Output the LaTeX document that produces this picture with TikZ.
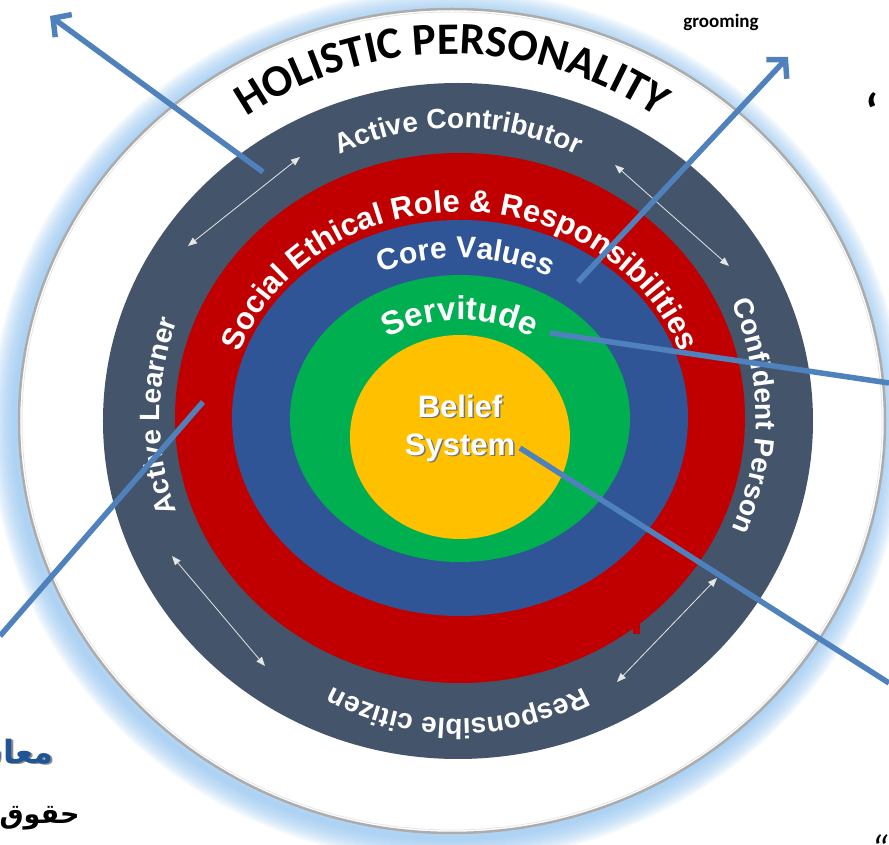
\documentclass[tikz,border=0pt]{standalone}
\usepackage{fontspec}
\setmainfont{Liberation Sans}
\newfontfamily\calibri{Carlito}
\newfontfamily\arabicfont[Script=Arabic]{DejaVu Sans}
\TeXXeTstate=1
\usetikzlibrary{decorations.text,arrows.meta}

\definecolor{slate}{HTML}{44546A}
\definecolor{ringred}{HTML}{C00000}
\definecolor{ringblue}{HTML}{2F5597}
\definecolor{ringgreen}{HTML}{00B050}
\definecolor{ringyellow}{HTML}{FFC000}
\definecolor{linkblue}{HTML}{4F81BD}
\definecolor{glowblue}{HTML}{8FC1EE}
\definecolor{arabicblue}{HTML}{1F5597}

\newcommand{\ringfont}[1]{\fontsize{#1}{#1}\selectfont\bfseries}

\begin{document}
\begin{tikzpicture}[x=1pt, y=1pt,
    ringlabel/.style={decorate, decoration={text along path, text color=white, text align=center}},
    link/.style={draw=linkblue, line width=5.5pt},
    linkarrow/.style={link, -{Straight Barb[length=13pt, width=28pt]}},
    swap/.style={draw=white!80!gray, line width=0.8pt, {Triangle[length=9pt, width=7pt]}-{Triangle[length=9pt, width=7pt]}},
    core/.style={font={\fontsize{31}{38}\selectfont\bfseries}, align=center}
  ]
    \useasboundingbox (-460,-425) rectangle (429,420);

    % Glow + outer disc
    \foreach \k in {1,...,12}
        \draw[glowblue, opacity=0.1, line width=4*\k] (-12,-6) ellipse (433 and 412);
    \draw[gray!65, line width=2.5pt, fill=white] (-8,-1) ellipse (433 and 412);
    \draw[gray!20, line width=0.8pt] (-8,-1) ellipse (430 and 409);

    % Rings
    \fill[slate] (-2,-1) ellipse (355 and 338);
    \fill[ringred] (0,2) ellipse (285 and 265);
    \fill[ringred] (173,-203) rectangle (180,-214);
    \fill[ringblue] (0,2) ellipse (228 and 198);
    \fill[ringgreen] (0,1.5) ellipse (170 and 143.5);
    \fill[ringyellow] (0,-17) ellipse (110 and 102);

    % Title
    \path[decorate, shift={(-8,-1)}, decoration={text along path, text align=center,
        text={|\calibri\fontsize{45}{45}\selectfont\bfseries|HOLISTIC PERSONALITY}}]
        (150:367) arc[start angle=150, end angle=30, radius=367];

    % Outer ring labels
    \path[ringlabel, shift={(-2,4)}, decoration={text={|\ringfont{28}|Active Contributor}}]
        (135:280 and 288) arc[start angle=135, end angle=45, x radius=280, y radius=288];
    \path[ringlabel, shift={(-2,4)}, decoration={text={|\ringfont{28}|Confident Person}}]
        (50:298 and 285) arc[start angle=50, end angle=-50, x radius=298, y radius=285];
    \path[ringlabel, shift={(-2,4)}, decoration={text={|\ringfont{28}|Responsible citizen}}]
        (-40:280 and 303) arc[start angle=-40, end angle=-140, x radius=280, y radius=303];
    \path[ringlabel, shift={(-2,4)}, decoration={text={|\ringfont{28}|Active Learner}}]
        (230:298 and 285) arc[start angle=230, end angle=130, x radius=298, y radius=285];

    % Inner ring labels
    \path[ringlabel, shift={(0,2)}, decoration={text={|\ringfont{31}|Social Ethical Role {\&} Responsibilities}}]
        (175:232 and 206) arc[start angle=175, end angle=5, x radius=232, y radius=206];
    \path[ringlabel, shift={(0,2)}, decoration={text={|\ringfont{30}|Core Values}}]
        (148:190 and 160) arc[start angle=148, end angle=28, x radius=190, y radius=160];
    \path[ringlabel, shift={(0,2)}, decoration={text={|\ringfont{33}|Servitude}}]
        (150:125 and 98) arc[start angle=150, end angle=30, x radius=125, y radius=98];

    % Core
    \node[core, text=black!55] (beliefShadow) at (1.5,-9.5) {Belief\\System};
    \node[core, text=white] (belief) at (0,-8) {Belief\\System};

    % Double arrows on the outer ring
    \coordinate (swapA1) at (-272,174);  \coordinate (swapA2) at (-160,263);
    \coordinate (swapB1) at (155,255);   \coordinate (swapB2) at (269,154);
    \coordinate (swapC1) at (-288,-136); \coordinate (swapC2) at (-195,-246);
    \coordinate (swapD1) at (157,-262);  \coordinate (swapD2) at (257,-158);
    \draw[swap] (swapA1) -- (swapA2);
    \draw[swap] (swapB1) -- (swapB2);
    \draw[swap] (swapC1) -- (swapC2);
    \draw[swap] (swapD1) -- (swapD2);

    % Pointers
    \coordinate (contribTail) at (-197,248);  \coordinate (contribTip) at (-410,404);
    \coordinate (valuesTail) at (118,138);    \coordinate (valuesTip) at (328,363);
    \coordinate (servTail) at (90,87);        \coordinate (servEnd) at (429,37);
    \coordinate (socialTail) at (-257,18);    \coordinate (socialEnd) at (-460,-216);
    \coordinate (beliefTail) at (60,-28);     \coordinate (beliefEnd) at (429,-263);
    \draw[linkarrow] (contribTail) -- (contribTip);
    \draw[linkarrow] (valuesTail) -- (valuesTip);
    \draw[link] (servTail) -- (servEnd);
    \draw[link] (socialTail) -- (socialEnd);
    \draw[link] (beliefTail) -- (beliefEnd);

    % Side texts
    \node[font=\calibri\fontsize{19}{19}\selectfont\bfseries] (grooming) at (261,398) {grooming};
    \node[font=\calibri\fontsize{50}{50}\selectfont\bfseries] (quoteTop) at (412,309) {‘};
    \node[font=\calibri\fontsize{40}{40}\selectfont\itshape, anchor=base] (quoteBottom) at (420,-443) {“};

    \fill[white] (-460,-298) rectangle (-356,-358);
    \node[font=\arabicfont\bfseries\fontsize{32}{32}\selectfont, text=black!45, anchor=east] (muashiratShadow) at (-401.5,-336.5) {\beginR معاش\endR};
    \node[font=\arabicfont\bfseries\fontsize{32}{32}\selectfont, text=arabicblue, anchor=east] (muashirat) at (-403,-335) {\beginR معاش\endR};
    \node[font=\arabicfont\bfseries\fontsize{27}{27}\selectfont, text=black, anchor=east] (huqooq) at (-377,-398) {\beginR حقوق\endR};
\end{tikzpicture}
\end{document}
